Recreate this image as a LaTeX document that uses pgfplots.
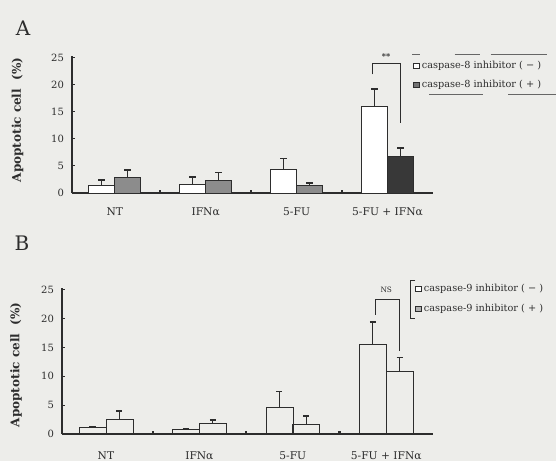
\documentclass[border=0pt]{standalone}
\usepackage{pgfplots}
\pgfplotsset{compat=1.18}
\usepackage{fontspec}
\setmainfont{DejaVu Serif}
\definecolor{bg}{RGB}{237,237,234}
\definecolor{ink}{RGB}{45,45,45}
\begin{document}
\begin{tikzpicture}[x=1pt,y=1pt]
\fill[bg] (0,0) rectangle (417,345.75);
\path[use as bounding box] (0,0) rectangle (417,345.75);
\node[font=\fontsize{15}{15}\selectfont, text=ink] at (17.25,324.75) {A};
\node[font=\fontsize{15}{15}\selectfont, text=ink] at (16.5,163.5) {B};
\pgfplotsset{
  panel/.style={
    scale only axis,
    axis x line=bottom, axis y line=left,
    axis line style={-, line width=1.3pt, ink},
    xmin=-0.47, xmax=3.5, ymin=0, ymax=25.3,
    ytick={0,5,...,25},
    tick align=inside,
    major tick length=2.5pt,
    ytick style={line width=0.8pt, ink},
    xtick={0,1,2,3},
    xticklabels={NT, IFNα, 5-FU, 5-FU + IFNα},
    xtick style={draw=none},
    extra x ticks={0.5,1.5,2.5},
    extra x tick labels={},
    extra x tick style={xtick style={draw=ink, line width=1.6pt}, major tick length=2pt},
    /pgf/number format/assume math mode=true,
    yticklabel style={font=\fontsize{7.5}{8}\selectfont, text=ink, xshift=-2.5pt},
    xticklabel style={font=\fontsize{8}{9}\selectfont, text=ink},
    ylabel={Apoptotic cell\ \ (\%)},
    ylabel style={font=\bfseries\fontsize{9}{10}\selectfont, text=ink, anchor=center},
    clip=false,
    legend style={draw=none, fill=none, font=\fontsize{7.3}{9}\selectfont, text=ink,
      row sep=3.5pt, cells={anchor=west}, inner sep=0pt},
  },
  ebA/.style={error bars/.cd, y dir=plus, y explicit, error mark=|,
    error bar style={line width=0.6pt, ink},
    error mark options={line width=1.2pt, mark size=2.5pt, ink}},
  ebB/.style={error bars/.cd, y dir=plus, y explicit, error mark=|,
    error bar style={line width=0.5pt, ink},
    error mark options={line width=1.1pt, mark size=2.3pt, ink}},
}
% Panel A
\begin{axis}[panel,
  at={(54pt,201pt)}, anchor=south west,
  width=270.75pt, height=102.75pt,
  xticklabel style={yshift=-7.5pt},
  ylabel style={at={(axis description cs:-0.151,0.533)}},
  legend style={at={(axis description cs:0.945,0.985)}, anchor=north west},
]
\addplot[ybar, bar width=19.5pt, bar shift=0pt, fill=white, draw=ink, line width=0.7pt,
  legend image code/.code={\draw[ink, fill=white, line width=0.4pt] (0pt,-2pt) rectangle (4pt,2pt);},
  ebA]
  coordinates {(-0.1433,1.3) +- (0,1.1) (0.8567,1.65) +- (0,1.35) (1.8567,4.3) +- (0,2.1) (2.8567,15.9) +- (0,3.3)};
\addlegendentry{caspase-8 inhibitor ( − )}
\addplot[ybar, bar width=19.5pt, bar shift=0pt, fill=black!45, draw=ink, line width=0.7pt,
  legend image code/.code={\draw[ink, fill=black!55, line width=0.4pt] (0pt,-2pt) rectangle (4pt,2pt);},
  ebA]
  coordinates {(0.1433,2.85) +- (0,1.35) (1.1433,2.4) +- (0,1.4) (2.1433,1.4) +- (0,0.5)};
\addlegendentry{caspase-8 inhibitor ( + )}
\addplot[forget plot, ybar, bar width=19.5pt, bar shift=0pt, fill=black!78, draw=ink, line width=0.7pt, ebA]
  coordinates {(3.1433,6.7) +- (0,1.6)};
\draw[ink, line width=0.7pt] (axis cs:2.83,21.9) -- (axis cs:2.83,24.0) -- (axis cs:3.14,24.0) -- (axis cs:3.14,13.0);
\node[font=\bfseries\fontsize{6}{6}\selectfont, text=ink] at (axis cs:2.985,25.2) {**};
\end{axis}
% scan-like rule marks around legend A
\draw[black!60, line width=0.5pt] (309,305.25) -- (315,305.25) (341,305.25) -- (360,305.25) (368,305.25) -- (410,305.25);
\draw[black!60, line width=0.5pt] (322,275.25) -- (362,275.25) (381,275.25) -- (417,275.25);
% Panel B
\begin{axis}[panel,
  at={(46.5pt,20.25pt)}, anchor=south west,
  width=278.25pt, height=109.5pt,
  xticklabel style={yshift=-9.5pt},
  ylabel style={at={(axis description cs:-0.124,0.473)}},
  legend style={at={(axis description cs:0.952,1.045)}, anchor=north west},
]
\addplot[ybar, bar width=20.25pt, bar shift=0pt, fill=none, draw=ink, line width=0.5pt,
  legend image code/.code={\draw[ink, fill=white, line width=0.4pt] (0pt,-2pt) rectangle (4pt,2pt);},
  ebB]
  coordinates {(-0.144,1.1) +- (0,0.2) (0.856,0.8) +- (0,0.15) (1.856,4.6) +- (0,2.8) (2.856,15.5) +- (0,3.9)};
\addlegendentry{caspase-9 inhibitor ( − )}
\addplot[ybar, bar width=20.25pt, bar shift=0pt, fill=none, draw=ink, line width=0.5pt,
  legend image code/.code={\draw[ink, fill=black!30, line width=0.4pt] (0pt,-2pt) rectangle (4pt,2pt);},
  ebB]
  coordinates {(0.144,2.5) +- (0,1.5) (1.144,1.8) +- (0,0.6) (2.144,1.7) +- (0,1.4) (3.144,10.9) +- (0,2.4)};
\addlegendentry{caspase-9 inhibitor ( + )}
\draw[ink, line width=0.6pt] (axis cs:2.88,20.7) -- (axis cs:2.88,23.3) -- (axis cs:3.14,23.3) -- (axis cs:3.14,14.4);
\node[font=\fontsize{5.5}{6}\selectfont, text=ink] at (axis cs:3.0,24.9) {NS};
\end{axis}
\draw[ink, line width=0.6pt] (311.5,135.75) -- (307.5,135.75) -- (307.5,107.25) -- (311.5,107.25);
\end{tikzpicture}
\end{document}
